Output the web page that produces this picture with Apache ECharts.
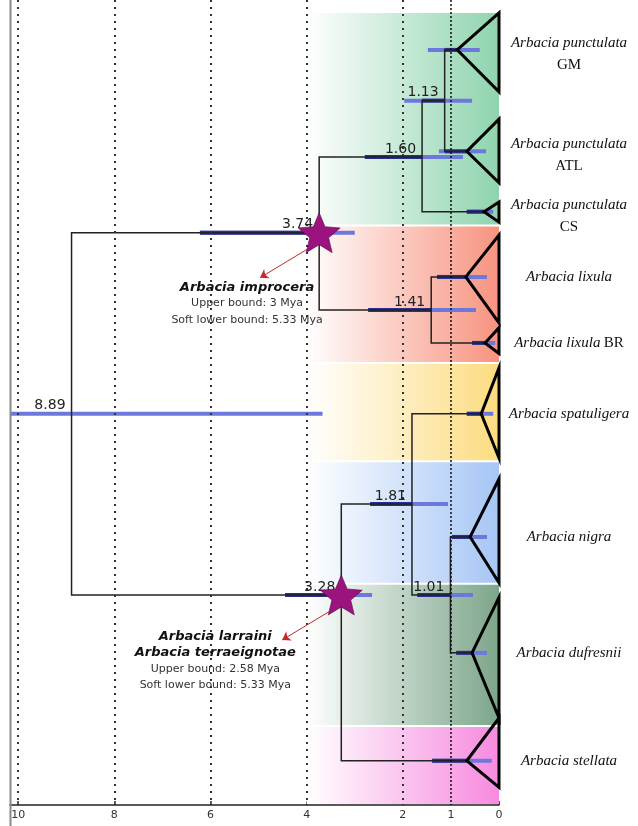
<!DOCTYPE html>
<html>
<head>
<meta charset="utf-8">
<script src="https://cdn.jsdelivr.net/npm/echarts@6/dist/echarts.min.js"></script>
<style>
  html, body { margin: 0; padding: 0; background: #ffffff; }
  #chart { width: 638px; height: 826px; }
</style>
</head>
<body>
<div id="chart"></div>
<script>
// ---- Time scale (million years ago) ----
const axisTicks = [10, 8, 6, 4, 2, 1, 0];
const dottedGuides = [10, 8, 6, 4, 2];
const presentGuide = [1];

// ---- Collapsed clades (tips) ----
const tipIds = ['GM', 'ATL', 'CS', 'lixula', 'BR', 'spatuligera', 'nigra', 'dufresnii', 'stellata'];
const tipNames = ['Arbacia punctulata', 'Arbacia punctulata', 'Arbacia punctulata', 'Arbacia lixula',
                  'Arbacia lixula', 'Arbacia spatuligera', 'Arbacia nigra', 'Arbacia dufresnii', 'Arbacia stellata'];
const tipSuffix = ['GM', 'ATL', 'CS', '', 'BR', '', '', '', ''];
const tipCrownAge = [0.87, 0.67, 0.31, 0.69, 0.29, 0.37, 0.60, 0.56, 0.67];
const tipRow = [6.2, 18.8, 26.3, 34.4, 42.6, 51.4, 66.7, 81.1, 94.5];
const tipSpanTop = [1.6, 14.8, 25.1, 29.2, 40.7, 45.7, 59.5, 74.2, 89.2];
const tipSpanBottom = [11.4, 22.7, 27.6, 40.1, 43.9, 56.9, 72.4, 89.2, 97.8];
const tipHpdOld = [1.48, 1.25, 0.67, 1.29, 0.56, 0.67, 0.98, 0.89, 1.39];
const tipHpdYoung = [0.40, 0.27, 0.12, 0.25, 0.08, 0.12, 0.25, 0.25, 0.15];

// ---- Internal nodes ----
const nodeIds = ['root', 'n374', 'n160', 'n113', 'n141', 'n328', 'n181', 'n101'];
const nodeAge = [8.89, 3.74, 1.60, 1.13, 1.41, 3.28, 1.81, 1.01];
const nodeRow = [51.4, 28.9, 19.5, 12.5, 38.5, 73.9, 62.6, 73.9];
const nodeHpdOld = [10.17, 6.22, 2.79, 1.97, 2.72, 4.45, 2.68, 1.70];
const nodeHpdYoung = [3.67, 3.00, 0.75, 0.56, 0.48, 2.64, 1.06, 0.54];

// ---- Topology ----
const edgeParent = ['root', 'root', 'n374', 'n374', 'n160', 'n160', 'n113', 'n113',
                    'n141', 'n141', 'n328', 'n328', 'n181', 'n181', 'n101', 'n101'];
const edgeChild = ['n374', 'n328', 'n160', 'n141', 'n113', 'CS', 'GM', 'ATL',
                   'lixula', 'BR', 'n181', 'stellata', 'spatuligera', 'n101', 'nigra', 'dufresnii'];

// ---- Fossil calibrations ----
const calibratedNodes = ['n374', 'n328'];
const calloutTitle = [['Arbacia improcera'], ['Arbacia larraini', 'Arbacia terraeignotae']];
const calloutUpper = ['Upper bound: 3 Mya', 'Upper bound: 2.58 Mya'];
const calloutLower = ['Soft lower bound: 5.33 Mya', 'Soft lower bound: 5.33 Mya'];
const calloutAge = [5.24, 5.90];
const calloutRow = [34.7, 78.1];
const arrowTipAge = [4.97, 4.51];
const arrowTipRow = [34.5, 79.5];

// ---- Clade colour bands ----
const bandTop = [1.5, 28.0, 45.1, 57.3, 72.5, 90.2];
const bandBottom = [28.0, 45.1, 57.3, 72.5, 90.2, 100];

// ---------------------------------------------------------------
const bandColors = ['#8fd4ae', '#f7937f', '#fcdc80', '#a6c6f5', '#7ca68a', '#f78adf'];
const BAND_START = 4.0;

// lookup of age / row for every node id
const pos = {};
tipIds.forEach((id, i) => { pos[id] = { age: tipCrownAge[i], row: tipRow[i] }; });
nodeIds.forEach((id, i) => { pos[id] = { age: nodeAge[i], row: nodeRow[i] }; });
const parentOf = {};
edgeChild.forEach((c, i) => { parentOf[c] = edgeParent[i]; });

// HPD bars: [old, young, row, age, parentAge]
const hpdData = [];
nodeIds.forEach((id, i) => {
  const p = parentOf[id];
  hpdData.push([nodeHpdOld[i], nodeHpdYoung[i], nodeRow[i], nodeAge[i], p ? pos[p].age : -1]);
});
tipIds.forEach((id, i) => {
  hpdData.push([tipHpdOld[i], tipHpdYoung[i], tipRow[i], tipCrownAge[i], pos[parentOf[id]].age]);
});

const branchData = edgeParent.map((p, i) => [pos[p].age, pos[p].row, pos[edgeChild[i]].age, pos[edgeChild[i]].row]);
const triangleData = tipIds.map((id, i) => [tipCrownAge[i], tipRow[i], tipSpanTop[i], tipSpanBottom[i]]);
const starData = calibratedNodes.map(id => [pos[id].age, pos[id].row]);
const nodeLabelData = nodeIds.map((id, i) => [nodeAge[i], nodeRow[i]]);
const bandData = bandTop.map((t, i) => [t, bandBottom[i]]);
const tipLabelData = tipIds.map((id, i) => [0, tipRow[i]]);
const arrowData = calibratedNodes.map((id, i) => ({
  coords: [[pos[id].age - 0.13, pos[id].row + 0.7], [arrowTipAge[i], arrowTipRow[i]]]
}));
const calloutData = calloutAge.map((a, i) => [a, calloutRow[i]]);

const chart = echarts.init(document.getElementById('chart'), null, { renderer: 'canvas' });

const SANS = '"DejaVu Sans", Verdana, sans-serif';
const SERIF = '"Liberation Serif", "Times New Roman", serif';
const STAR = 'path://M50 2 L63.23 33.8 L97.55 36.55 L71.4 58.95 L79.39 92.45 L50 74.5 L20.61 92.45 L28.6 58.95 L2.45 36.55 L36.77 33.8 Z';

chart.setOption({
  animation: false,
  backgroundColor: '#ffffff',
  grid: { left: 10, right: 139, top: 0, bottom: 21 },
  xAxis: {
    type: 'value', inverse: true, min: 0, max: 10.17, position: 'bottom',
    axisLine: { show: true, onZero: false, lineStyle: { color: '#222', width: 1.5 } },
    axisTick: { show: true, inside: true, length: 4, customValues: axisTicks, lineStyle: { color: '#222', width: 1.5 } },
    axisLabel: { customValues: axisTicks, fontSize: 11, color: '#333', margin: 5, fontFamily: SANS },
    splitLine: { show: false }
  },
  yAxis: { type: 'value', inverse: true, min: 0, max: 100, show: false },
  graphic: [{
    type: 'line', silent: true, z: 100,
    shape: { x1: 10.5, y1: 0, x2: 10.5, y2: 826 },
    style: { stroke: '#8a8a8a', lineWidth: 2 }
  }],
  series: [
    // clade colour bands
    {
      type: 'custom', z: 1, silent: true, clip: false,
      data: bandData,
      renderItem(params, api) {
        const p0 = api.coord([BAND_START, api.value(0)]);
        const p1 = api.coord([0, api.value(1)]);
        return {
          type: 'rect',
          shape: { x: p0[0], y: p0[1] + 1, width: p1[0] - p0[0], height: p1[1] - p0[1] - 2 },
          style: {
            fill: new echarts.graphic.LinearGradient(0, 0, 1, 0, [
              { offset: 0, color: 'rgba(255,255,255,1)' },
              { offset: 1, color: bandColors[params.dataIndex] }
            ])
          }
        };
      }
    },
    // dotted time guides
    {
      type: 'line', z: 2, data: [], silent: true,
      markLine: {
        symbol: 'none', silent: true, label: { show: false },
        lineStyle: { type: [2, 5], color: '#333', width: 2 },
        data: dottedGuides.map(v => ({ xAxis: v }))
      }
    },
    {
      type: 'line', z: 2, data: [], silent: true,
      markLine: {
        symbol: 'none', silent: true, label: { show: false },
        lineStyle: { type: [2, 2], color: '#111', width: 1.5 },
        data: presentGuide.map(v => ({ xAxis: v }))
      }
    },
    // 95% HPD bars
    {
      type: 'custom', z: 3, silent: true, clip: true,
      data: hpdData,
      renderItem(params, api) {
        const old = api.value(0), young = api.value(1), row = api.value(2), age = api.value(3), pa = api.value(4);
        const a = api.coord([old, row]);
        const b = api.coord([young, row]);
        const h = 4;
        const children = [{
          type: 'rect',
          shape: { x: a[0], y: a[1] - h / 2, width: b[0] - a[0], height: h },
          style: { fill: '#6c78dc' }
        }];
        if (pa >= 0) {
          const from = Math.min(pa, old), to = Math.max(age, young);
          if (from > to) {
            const c = api.coord([from, row]), d = api.coord([to, row]);
            children.push({
              type: 'rect',
              shape: { x: c[0], y: c[1] - h / 2, width: d[0] - c[0], height: h },
              style: { fill: '#2a2f8e' }
            });
          }
        }
        return { type: 'group', children };
      }
    },
    // branches
    {
      type: 'custom', z: 4, silent: true, clip: false,
      data: branchData,
      renderItem(params, api) {
        const p = api.coord([api.value(0), api.value(1)]);
        const k = api.coord([api.value(0), api.value(3)]);
        const c = api.coord([api.value(2), api.value(3)]);
        return {
          type: 'polyline',
          shape: { points: [p, k, c] },
          style: { stroke: '#222', lineWidth: 1.5, fill: null }
        };
      }
    },
    // collapsed clade triangles
    {
      type: 'custom', z: 5, silent: true, clip: false,
      data: triangleData,
      renderItem(params, api) {
        const apex = api.coord([api.value(0), api.value(1)]);
        const t = api.coord([0, api.value(2)]);
        const b = api.coord([0, api.value(3)]);
        return {
          type: 'polygon',
          shape: { points: [apex, t, b] },
          style: { stroke: '#000', lineWidth: 3, fill: null, lineJoin: 'miter' }
        };
      }
    },
    // node age labels
    {
      type: 'custom', z: 6, silent: true, clip: false,
      data: nodeLabelData,
      renderItem(params, api) {
        const p = api.coord([api.value(0), api.value(1)]);
        return {
          type: 'text',
          x: p[0] - 6, y: p[1] - 1,
          style: {
            text: api.value(0).toFixed(2), fill: '#222',
            font: '14px ' + SANS, align: 'right', verticalAlign: 'bottom'
          }
        };
      }
    },
    // calibration arrows
    {
      type: 'lines', coordinateSystem: 'cartesian2d', z: 7, silent: true,
      symbol: ['none', 'arrow'], symbolSize: 8,
      lineStyle: { color: '#c42a2a', width: 1, opacity: 1, curveness: 0 },
      data: arrowData
    },
    // calibration stars
    {
      type: 'scatter', z: 8, silent: true,
      symbol: STAR,
      symbolSize: [42, 40], symbolKeepAspect: false,
      itemStyle: { color: '#9b137e', borderColor: '#5c0a4b', borderWidth: 0.6, opacity: 1 },
      data: starData
    },
    // calibration callouts
    {
      type: 'custom', z: 9, silent: true, clip: false,
      data: calloutData,
      renderItem(params, api) {
        const i = params.dataIndex;
        const p = api.coord([api.value(0), api.value(1)]);
        const lines = calloutTitle[i].map(t => '{t|' + t + '}')
          .concat(['{s|' + calloutUpper[i] + '}', '{s|' + calloutLower[i] + '}']);
        return {
          type: 'text', x: p[0], y: p[1],
          style: {
            text: lines.join('\n'), align: 'center', verticalAlign: 'top',
            rich: {
              t: { font: 'italic bold 13px ' + SANS, fill: '#111', lineHeight: 16, align: 'center' },
              s: { font: '11px ' + SANS, fill: '#333', lineHeight: 16.5, align: 'center' }
            }
          }
        };
      }
    },
    // tip labels
    {
      type: 'custom', z: 9, silent: true, clip: false,
      data: tipLabelData,
      renderItem(params, api) {
        const i = params.dataIndex;
        const p = api.coord([0, api.value(1)]);
        let text, dy = 0;
        if (tipSuffix[i] && tipNames[i] === 'Arbacia punctulata') {
          text = '{i|' + tipNames[i] + '}\n{n|' + tipSuffix[i] + '}';
          dy = 4;
        } else if (tipSuffix[i]) {
          text = '{i|' + tipNames[i] + '} {n|' + tipSuffix[i] + '}';
        } else {
          text = '{i|' + tipNames[i] + '}';
        }
        return {
          type: 'text', x: p[0] + 70, y: p[1] + dy,
          style: {
            text, align: 'center', verticalAlign: 'middle',
            rich: {
              i: { font: 'italic 15px ' + SERIF, fill: '#111', lineHeight: 22, align: 'center' },
              n: { font: '15px ' + SERIF, fill: '#111', lineHeight: 22, align: 'center' }
            }
          }
        };
      }
    }
  ]
});
</script>
</body>
</html>
